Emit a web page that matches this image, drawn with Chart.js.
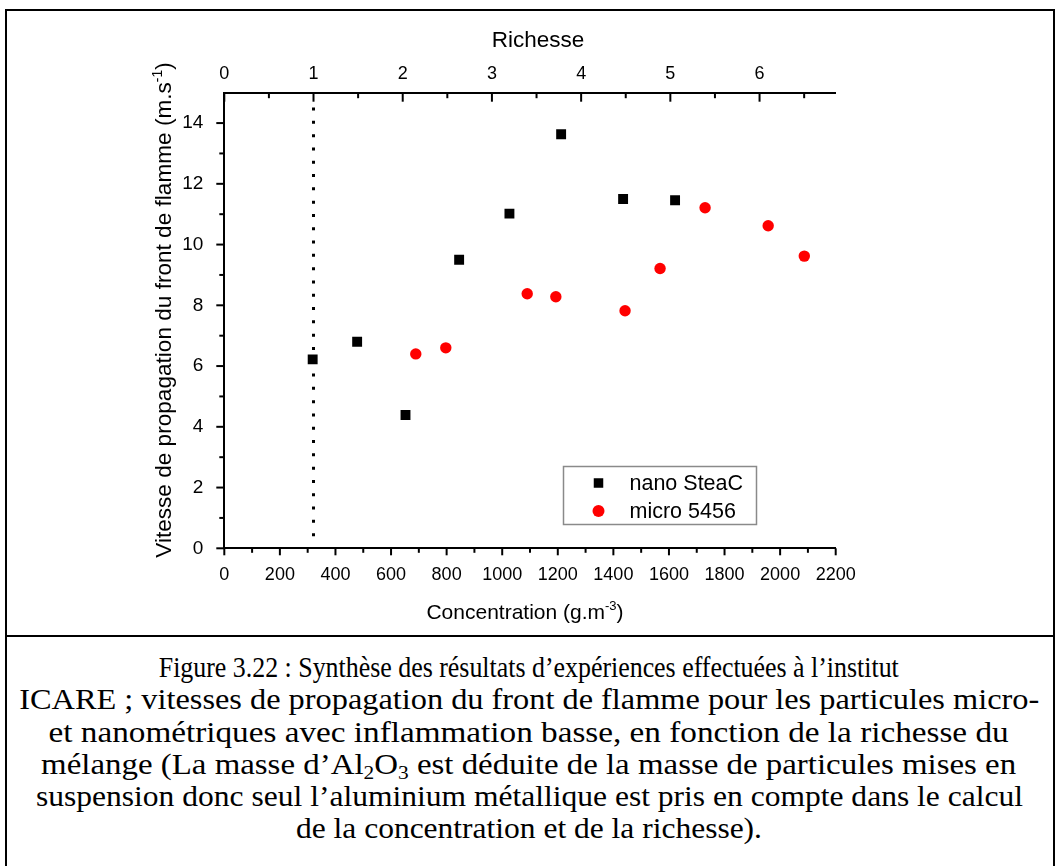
<!DOCTYPE html>
<html>
<head>
<meta charset="utf-8">
<script src="https://cdn.jsdelivr.net/npm/chart.js@4.4.1/dist/chart.umd.min.js"></script>
<style>
  html, body { margin: 0; padding: 0; background: #fff; }
  body { width: 1057px; height: 866px; position: relative; overflow: hidden; }
  #frame { position: absolute; left: 5px; top: 9px; width: 1050px; height: 900px; box-sizing: border-box; border: 2.5px solid #000; }
  #sep { position: absolute; left: 5px; top: 634.5px; width: 1050px; height: 2.5px; background: #000; }
  #wrap { position: absolute; left: 0; top: 0; width: 1057px; height: 634px; }
  #caption { position: absolute; left: 7px; top: 651px; width: 1044px; text-align: center;
    font-family: "Liberation Serif", "Times New Roman", serif; font-size: 30px; line-height: 32.3px; color: #000; }
  #caption div { white-space: nowrap; height: 32.3px; }
  #caption span { display: inline-block; transform-origin: 50% 50%; }
  sub { font-size: 0.65em; vertical-align: -0.25em; line-height: 0; }
</style>
</head>
<body>
<div id="frame"></div>
<div id="sep"></div>
<div id="wrap"><canvas id="c" width="1057" height="634"></canvas></div>
<div id="caption">
  <div><span data-w="740">Figure 3.22 : Synthèse des résultats d’expériences effectuées à l’institut</span></div>
  <div><span data-w="1020">ICARE ; vitesses de propagation du front de flamme pour les particules micro-</span></div>
  <div><span data-w="960">et nanométriques avec inflammation basse, en fonction de la richesse du</span></div>
  <div><span data-w="975">mélange (La masse d’Al<sub>2</sub>O<sub>3</sub> est déduite de la masse de particules mises en</span></div>
  <div><span data-w="987">suspension donc seul l’aluminium métallique est pris en compte dans le calcul</span></div>
  <div><span data-w="466">de la concentration et de la richesse).</span></div>
</div>
<script>
// ---- data ----
const nanoLabel = 'nano SteaC';
const nanoConcentration = [318, 478, 652, 845, 1026, 1212, 1435, 1622];
const nanoVitesse = [6.22, 6.80, 4.39, 9.50, 11.02, 13.63, 11.50, 11.46];

const microLabel = 'micro 5456';
const microConcentration = [689, 797, 1090, 1193, 1442, 1568, 1730, 1957, 2087];
const microVitesse = [6.40, 6.60, 8.38, 8.28, 7.82, 9.21, 11.21, 10.62, 9.62];

// stoichiometric reference line (richesse = 1)
const refRichesse = [1, 1];
const refVitesse = [0.4, 14.6];

const concentrationTicks = [0, 200, 400, 600, 800, 1000, 1200, 1400, 1600, 1800, 2000, 2200];
const richesseTicks = [0, 1, 2, 3, 4, 5, 6];
const vitesseTicks = [0, 2, 4, 6, 8, 10, 12, 14];
const concentrationMax = 2200;
const concentrationPerRichesse = 321;   // g.m-3 for richesse 1
const vitesseMax = 15;

const xTitle = ['Concentration (g.m', '-3', ')'];
const yTitle = ['Vitesse de propagation du front de flamme (m.s', '-1', ')'];
const topTitle = 'Richesse';

// caption line widths fitted to the reference layout
document.querySelectorAll('#caption span').forEach(sp => {
  const target = parseFloat(sp.dataset.w);
  const w = sp.getBoundingClientRect().width;
  if (w > 0) sp.style.transform = 'scaleX(' + (target / w) + ')';
});

// ---- helpers ----
const FONT = '"Liberation Sans", Arial, sans-serif';
function toPoints(xs, ys) { return xs.map((x, i) => ({ x: x, y: ys[i] })); }
function setTicks(arr) { return s => { s.ticks = arr.map(v => ({ value: v })); }; }
function plain(v) { return String(v); }
function minorOf(arr, max) {
  const out = [];
  const step = arr[1] - arr[0];
  for (let i = 0; i < arr.length; i++) {
    const m = arr[i] + step / 2;
    if (m < max - 1e-9) out.push(m);
  }
  return out;
}
function drawRich(ctx, parts, size, cx, cy) {
  const supSize = size * 0.62;
  ctx.font = size + 'px ' + FONT;
  const w0 = ctx.measureText(parts[0]).width;
  const w2 = ctx.measureText(parts[2]).width;
  ctx.font = supSize + 'px ' + FONT;
  const w1 = ctx.measureText(parts[1]).width;
  const total = w0 + w1 + w2;
  let x = cx - total / 2;
  ctx.textAlign = 'left';
  ctx.textBaseline = 'alphabetic';
  const base = cy + size * 0.36;
  ctx.font = size + 'px ' + FONT;
  ctx.fillText(parts[0], x, base); x += w0;
  ctx.font = supSize + 'px ' + FONT;
  ctx.fillText(parts[1], x, base - size * 0.42); x += w1;
  ctx.font = size + 'px ' + FONT;
  ctx.fillText(parts[2], x, base);
}

const decor = {
  id: 'decor',
  afterDraw(chart) {
    const ctx = chart.ctx;
    const { left, right, top, bottom } = chart.chartArea;
    const xs = chart.scales.x, xt = chart.scales.xTop, ys = chart.scales.y;
    ctx.save();
    ctx.strokeStyle = '#000';
    ctx.lineWidth = 2;
    ctx.lineCap = 'butt';
    const seg = (x1, y1, x2, y2) => { ctx.beginPath(); ctx.moveTo(x1, y1); ctx.lineTo(x2, y2); ctx.stroke(); };
    // bottom ticks (outward)
    concentrationTicks.forEach(v => { const p = xs.getPixelForValue(v); seg(p, bottom, p, bottom + 7); });
    minorOf(concentrationTicks, xs.max).forEach(v => { const p = xs.getPixelForValue(v); seg(p, bottom, p, bottom + 4.5); });
    // top ticks (inward)
    richesseTicks.forEach(v => { const p = xt.getPixelForValue(v); seg(p, top, p, top + 9); });
    minorOf(richesseTicks, xt.max).forEach(v => { const p = xt.getPixelForValue(v); seg(p, top, p, top + 5.5); });
    // left ticks (outward)
    vitesseTicks.forEach(v => { const p = ys.getPixelForValue(v); seg(left - 8, p, left, p); });
    minorOf(vitesseTicks, ys.max).forEach(v => { const p = ys.getPixelForValue(v); seg(left - 5, p, left, p); });

    // titles
    ctx.fillStyle = '#000';
    ctx.font = '22.5px ' + FONT;
    ctx.textAlign = 'center';
    ctx.textBaseline = 'middle';
    ctx.fillText(topTitle, (left + right) / 2 + 8, 41);
    drawRich(ctx, xTitle, 21, (left + right) / 2 - 5, 611);
    ctx.save();
    ctx.translate(163, 310);
    ctx.rotate(-Math.PI / 2);
    drawRich(ctx, yTitle, 22.6, 0, 0);
    ctx.restore();

    // legend
    const lx = 563.5, ly = 466.5, lw = 193, lh = 58;
    ctx.strokeStyle = '#8a8a8a';
    ctx.lineWidth = 1.5;
    ctx.strokeRect(lx, ly, lw, lh);
    const entries = chart.data.datasets.filter(d => d.inLegend);
    entries.forEach((d, i) => {
      const cy = ly + 16.5 + i * 28;
      ctx.fillStyle = d.backgroundColor;
      if (d.pointStyle === 'rect') {
        const s = 9.5;
        ctx.fillRect(lx + 35 - s / 2, cy - s / 2, s, s);
      } else {
        ctx.beginPath(); ctx.arc(lx + 35, cy, 6, 0, Math.PI * 2); ctx.fill();
      }
      ctx.fillStyle = '#000';
      ctx.font = '21.5px ' + FONT;
      ctx.textAlign = 'left';
      ctx.textBaseline = 'middle';
      ctx.fillText(d.label, lx + 66, cy + 1);
    });
    ctx.restore();
  }
};

new Chart(document.getElementById('c'), {
  type: 'scatter',
  data: {
    datasets: [
      {
        label: 'richesse 1', data: toPoints(refRichesse, refVitesse), xAxisID: 'xTop', yAxisID: 'y',
        showLine: true, borderColor: '#000', borderWidth: 3, borderDash: [3, 10.3], pointRadius: 0, inLegend: false
      },
      {
        label: nanoLabel, data: toPoints(nanoConcentration, nanoVitesse), xAxisID: 'x', yAxisID: 'y',
        pointStyle: 'rect', pointRadius: 7, backgroundColor: '#000', borderWidth: 0, inLegend: true
      },
      {
        label: microLabel, data: toPoints(microConcentration, microVitesse), xAxisID: 'x', yAxisID: 'y',
        pointStyle: 'circle', pointRadius: 5.7, backgroundColor: '#ff0000', borderWidth: 0, inLegend: true
      }
    ]
  },
  options: {
    responsive: false,
    animation: false,
    events: [],
    layout: { padding: { left: 164.3, right: 221.3, top: 52.7, bottom: 35.7 } },
    plugins: { legend: { display: false }, tooltip: { enabled: false } },
    scales: {
      x: {
        type: 'linear', position: 'bottom', min: 0, max: concentrationMax,
        afterBuildTicks: setTicks(concentrationTicks),
        afterFit: s => { s.height = 50; },
        grid: { display: false },
        border: { display: true, color: '#000', width: 2 },
        ticks: { color: '#000', font: { family: FONT, size: 18 }, padding: 8, maxRotation: 0, autoSkip: false, callback: plain }
      },
      xTop: {
        type: 'linear', position: 'top', min: 0, max: concentrationMax / concentrationPerRichesse,
        afterBuildTicks: setTicks(richesseTicks),
        afterFit: s => { s.height = 40; },
        grid: { display: false },
        border: { display: true, color: '#000', width: 2 },
        ticks: { color: '#000', font: { family: FONT, size: 18 }, padding: 0, maxRotation: 0, autoSkip: false, callback: plain }
      },
      y: {
        type: 'linear', position: 'left', min: 0, max: vitesseMax,
        afterBuildTicks: setTicks(vitesseTicks),
        afterFit: s => { s.width = 60; },
        grid: { display: false },
        border: { display: true, color: '#000', width: 2 },
        ticks: { color: '#000', font: { family: FONT, size: 19 }, padding: 13, autoSkip: false, callback: plain }
      }
    }
  },
  plugins: [decor]
});
</script>
</body>
</html>
